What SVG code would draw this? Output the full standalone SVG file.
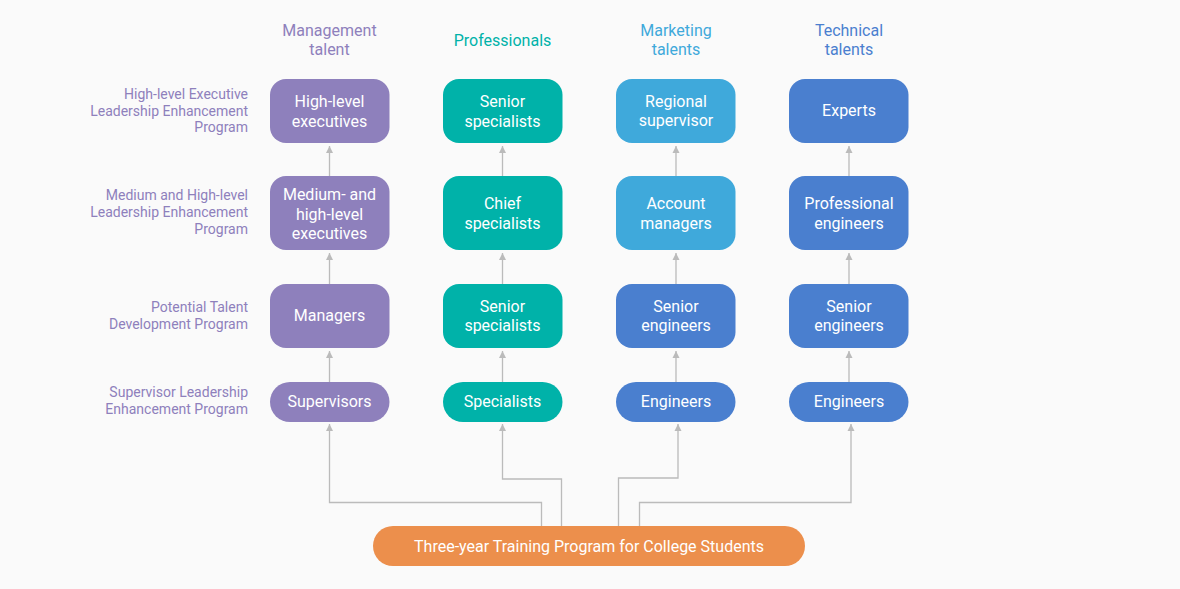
<svg xmlns="http://www.w3.org/2000/svg" width="1180" height="589" viewBox="0 0 1180 589">
<defs>
<marker id="ah" markerUnits="userSpaceOnUse" markerWidth="8" markerHeight="8" refX="7" refY="4" orient="auto">
<path d="M0,0.5 L7,4 L0,7.5 Z" fill="#bbbbbb"/>
</marker>
<style>
.bg{fill:#fafafa}
text{font-family:Roboto,"Liberation Sans",sans-serif}
.nt{fill:#fff;font-size:16px;text-anchor:middle}
.lb{fill:#8e80bc;font-size:14px;text-anchor:end}
.hd{font-size:16px;text-anchor:middle}
.c{fill:none;stroke:#bbbbbb;stroke-width:1.3;marker-end:url(#ah)}
.m{fill:#8e80bc}.p{fill:#00b2a9}.k{fill:#3fa9db}.t{fill:#4a7fcf}.o{fill:#ec8f4c}
</style>
</defs>
<rect class="bg" x="0" y="0" width="1180" height="589"/>

<g id="headers">
<text class="hd" x="329.5" y="36" fill="#8e80bc">Management</text>
<text class="hd" x="329.5" y="55" fill="#8e80bc">talent</text>
<text class="hd" x="502.5" y="46" fill="#00b2a9">Professionals</text>
<text class="hd" x="676" y="36" fill="#3fa9db">Marketing</text>
<text class="hd" x="676" y="55" fill="#3fa9db">talents</text>
<text class="hd" x="849" y="36" fill="#4a7fcf">Technical</text>
<text class="hd" x="849" y="55" fill="#4a7fcf">talents</text>
</g>

<g id="labels">
<text class="lb" x="248" y="99">High-level Executive</text>
<text class="lb" x="248" y="115.5">Leadership Enhancement</text>
<text class="lb" x="248" y="132">Program</text>
<text class="lb" x="248" y="200">Medium and High-level</text>
<text class="lb" x="248" y="216.5">Leadership Enhancement</text>
<text class="lb" x="248" y="233.5">Program</text>
<text class="lb" x="248" y="312">Potential Talent</text>
<text class="lb" x="248" y="329">Development Program</text>
<text class="lb" x="248" y="397">Supervisor Leadership</text>
<text class="lb" x="248" y="414">Enhancement Program</text>
</g>

<g id="connectors">
<path class="c" d="M329.5,176 V146"/>
<path class="c" d="M329.5,284 V253"/>
<path class="c" d="M329.5,382 V351"/>
<path class="c" d="M502.5,176 V146"/>
<path class="c" d="M502.5,284 V253"/>
<path class="c" d="M502.5,382 V351"/>
<path class="c" d="M676,176 V146"/>
<path class="c" d="M676,284 V253"/>
<path class="c" d="M676,382 V351"/>
<path class="c" d="M849,176 V146"/>
<path class="c" d="M849,284 V253"/>
<path class="c" d="M849,382 V351"/>
<path class="c" d="M541.5,526 V502.5 H329.5 V424"/>
<path class="c" d="M561.5,526 V479 H502.5 V424"/>
<path class="c" d="M618.5,526 V478 H678 V424"/>
<path class="c" d="M639.5,526 V502.5 H851 V424"/>
</g>

<g id="n-high-exec"><rect class="m" x="270" y="79" width="119.5" height="64" rx="16"/><text class="nt" x="329.5" y="107">High-level</text><text class="nt" x="329.5" y="127">executives</text></g>
<g id="n-med-exec"><rect class="m" x="270" y="176" width="119.5" height="74" rx="16"/><text class="nt" x="329.5" y="200">Medium- and</text><text class="nt" x="329.5" y="219.5">high-level</text><text class="nt" x="329.5" y="239">executives</text></g>
<g id="n-managers"><rect class="m" x="270" y="284" width="119.5" height="64" rx="16"/><text class="nt" x="329.5" y="321">Managers</text></g>
<g id="n-supervisors"><rect class="m" x="270" y="382" width="119.5" height="40" rx="20"/><text class="nt" x="329.5" y="407">Supervisors</text></g>

<g id="n-senior-spec-top"><rect class="p" x="443" y="79" width="119.5" height="64" rx="16"/><text class="nt" x="502.5" y="107">Senior</text><text class="nt" x="502.5" y="127">specialists</text></g>
<g id="n-chief-spec"><rect class="p" x="443" y="176" width="119.5" height="74" rx="16"/><text class="nt" x="502.5" y="209">Chief</text><text class="nt" x="502.5" y="228.5">specialists</text></g>
<g id="n-senior-spec"><rect class="p" x="443" y="284" width="119.5" height="64" rx="16"/><text class="nt" x="502.5" y="312">Senior</text><text class="nt" x="502.5" y="331">specialists</text></g>
<g id="n-specialists"><rect class="p" x="443" y="382" width="119.5" height="40" rx="20"/><text class="nt" x="502.5" y="407">Specialists</text></g>

<g id="n-regional"><rect class="k" x="616" y="79" width="119.5" height="64" rx="16"/><text class="nt" x="676" y="107">Regional</text><text class="nt" x="676" y="126">supervisor</text></g>
<g id="n-account"><rect class="k" x="616" y="176" width="119.5" height="74" rx="16"/><text class="nt" x="676" y="209">Account</text><text class="nt" x="676" y="228.5">managers</text></g>
<g id="n-senior-eng-m"><rect class="t" x="616" y="284" width="119.5" height="64" rx="16"/><text class="nt" x="676" y="312">Senior</text><text class="nt" x="676" y="331">engineers</text></g>
<g id="n-eng-m"><rect class="t" x="616" y="382" width="119.5" height="40" rx="20"/><text class="nt" x="676" y="407">Engineers</text></g>

<g id="n-experts"><rect class="t" x="789" y="79" width="119.5" height="64" rx="16"/><text class="nt" x="849" y="116">Experts</text></g>
<g id="n-prof-eng"><rect class="t" x="789" y="176" width="119.5" height="74" rx="16"/><text class="nt" x="849" y="209">Professional</text><text class="nt" x="849" y="228.5">engineers</text></g>
<g id="n-senior-eng-t"><rect class="t" x="789" y="284" width="119.5" height="64" rx="16"/><text class="nt" x="849" y="312">Senior</text><text class="nt" x="849" y="331">engineers</text></g>
<g id="n-eng-t"><rect class="t" x="789" y="382" width="119.5" height="40" rx="20"/><text class="nt" x="849" y="407">Engineers</text></g>

<g id="n-training"><rect class="o" x="373" y="526" width="432" height="40" rx="20"/><text class="nt" x="589" y="552">Three-year Training Program for College Students</text></g>
</svg>
